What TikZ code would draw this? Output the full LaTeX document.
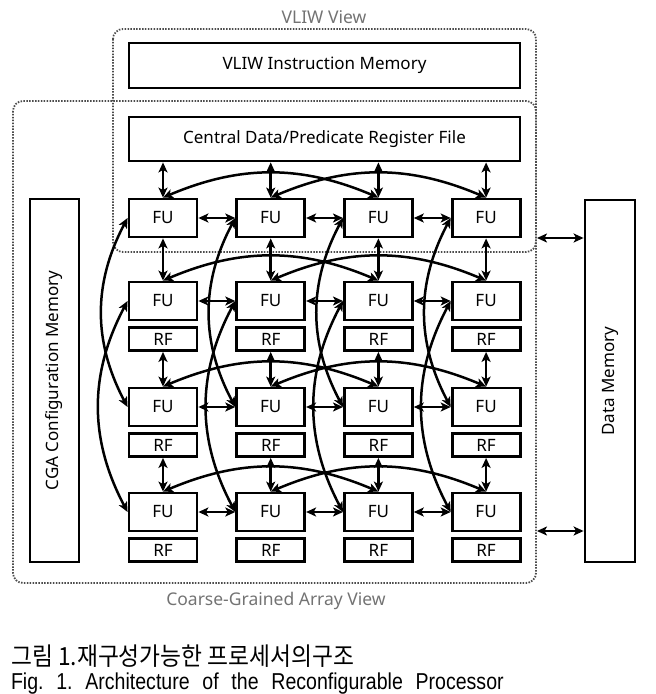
\documentclass[tikz,border=0pt]{standalone}
\usepackage{fontspec}
\setmainfont{Noto Sans}
\newfontfamily\krfont{Noto Sans CJK KR}
\newfontfamily\capfont{Liberation Sans}
\usetikzlibrary{arrows.meta}

\tikzset{
	blockbox/.style={draw, line width=2.8pt, inner sep=0pt, font=\fontsize{17}{19}\selectfont},
	unitbox/.style={blockbox, minimum width=68pt, minimum height=38pt},
	rfbox/.style={blockbox, minimum width=68pt, minimum height=23pt},
	viewbox/.style={draw=black!70, line width=1.8pt, dash pattern=on 1.5pt off 1.4pt, rounded corners=10pt},
	viewlabel/.style={text=black!55, font=\fontsize{17.5}{19}\selectfont},
	link/.style={line width=2.5pt, {Stealth[length=10pt,width=9pt,inset=2.5pt]}-{Stealth[length=10pt,width=9pt,inset=2.5pt]}}
}

\begin{document}
\begin{tikzpicture}[x=1pt, y=-1pt]
	% Parameters
	\def\xfirst{163}
	\def\xstep{107.7}
	\def\rfoff{38}
	\def\bendrow{23}
	\def\bendcol{28}
	
	\useasboundingbox (0,0) rectangle (656,694);
	
	%views
	\draw[viewbox] (113,29) rectangle (536,252);
	\draw[viewbox] (13,101) rectangle (536,583);
	\node[viewlabel] (vliwlbl) at (324,17) {VLIW View};
	\node[viewlabel] (cgalbl) at (276,601) {Coarse-Grained Array View};
	
	%memories
	\node[blockbox, minimum width=391pt, minimum height=45pt] (vim) at (324.5,65.5) {VLIW Instruction Memory};
	\node[blockbox, minimum width=391pt, minimum height=44pt] (crf) at (324.5,139) {Central Data/Predicate Register File};
	\node[blockbox, minimum width=363pt, minimum height=49pt, rotate=90] (cgamem) at (54.5,380.5) {CGA Configuration Memory};
	\node[blockbox, minimum width=362pt, minimum height=50pt, rotate=90] (dmem) at (610,381) {Data Memory};
	
	%units
	\foreach \r/\y in {1/218,2/301,3/407,4/512} {
		\foreach \c in {1,...,4} {
			\node[unitbox] (fu\r\c) at ({\xfirst+(\c-1)*\xstep},\y) {FU};
		}
	}
	\foreach \r/\y in {2/301,3/407,4/512} {
		\foreach \c in {1,...,4} {
			\node[rfbox] (rf\r\c) at ({\xfirst+(\c-1)*\xstep},\y+\rfoff) {RF};
		}
	}
	
	%links
	\foreach \c in {1,...,4} {
		\draw[link] (crf.south -| fu1\c.north) -- (fu1\c.north);
		\draw[link] (fu1\c) -- (fu2\c);
		\draw[link] (rf2\c) -- (fu3\c);
		\draw[link] (rf3\c) -- (fu4\c);
	}
	\foreach \r in {1,...,4} {
		\foreach \c/\n in {1/2,2/3,3/4} {
			\draw[link] (fu\r\c) -- (fu\r\n);
		}
		\draw[link] (fu\r1.north) to[bend left=\bendrow] (fu\r3.north);
		\draw[link] (fu\r2.north) to[bend left=\bendrow] (fu\r4.north);
	}
	\foreach \c in {1,...,4} {
		\draw[link] (fu1\c.west) to[bend right=\bendcol] (fu3\c.west);
		\draw[link] (fu2\c.west) to[bend right=\bendcol] (fu4\c.west);
	}
	
	%data memory ports
	\coordinate (vport) at (537,238);
	\coordinate (cport) at (537,531);
	\draw[link] (vport) -- (vport -| dmem.north);
	\draw[link] (cport) -- (cport -| dmem.north);
	
	%caption
	\node[anchor=west, font=\krfont\fontsize{25}{27}\selectfont, xscale=0.91] (capkr) at (8,656) {그림 1.재구성가능한 프로세서의구조};
	\node[anchor=west, font=\capfont\fontsize{23}{26}\selectfont, xscale=0.85] (capen) at (8,684) {\spaceskip=15pt Fig.\ 1.\ Architecture of the Reconfigurable Processor};
\end{tikzpicture}
\end{document}
